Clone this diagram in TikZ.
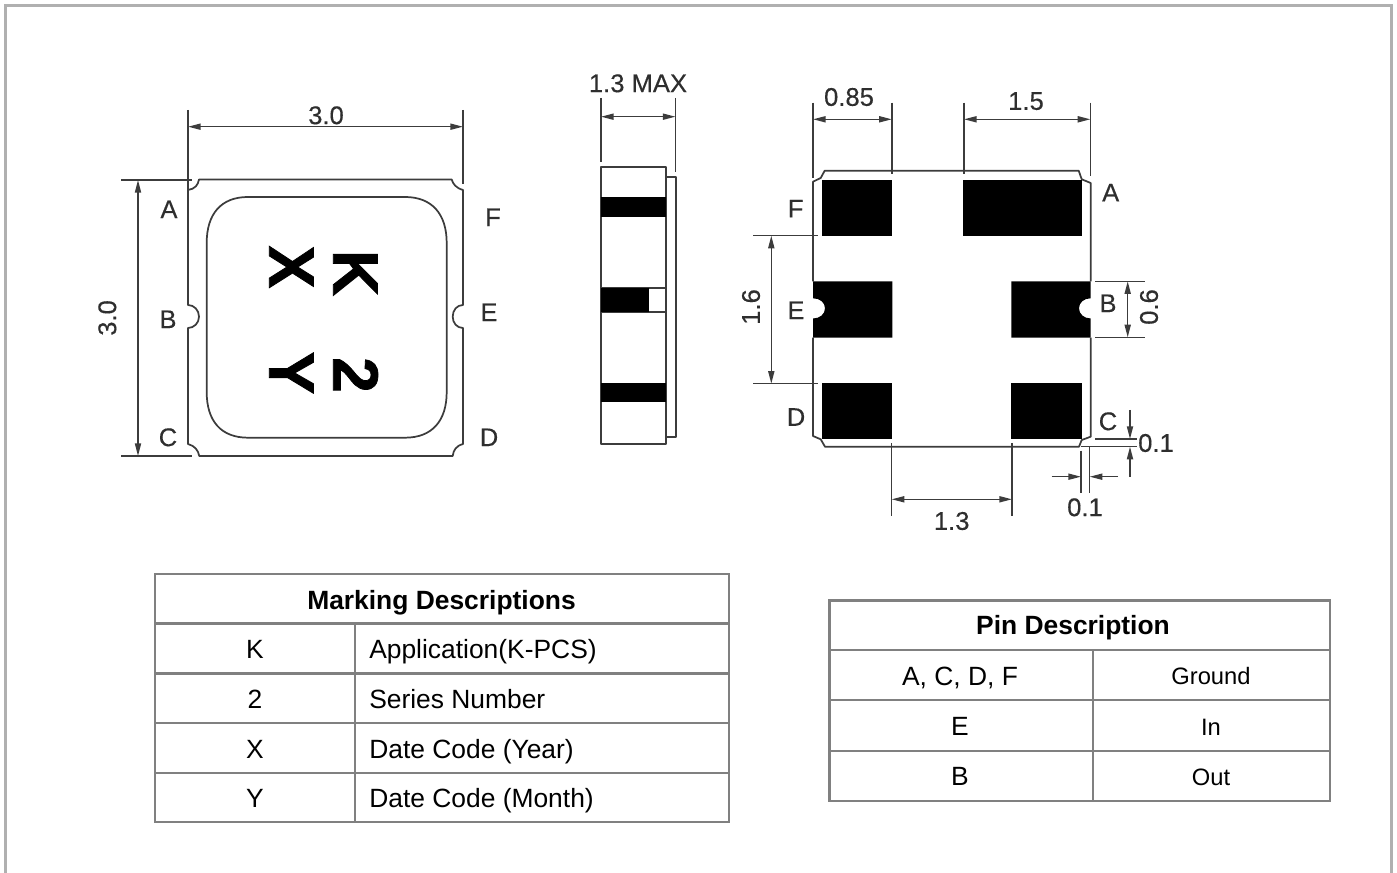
\documentclass[tikz,border=0pt]{standalone}
\usepackage{fontspec}
\setmainfont{Liberation Sans}
\newfontfamily\labfont[FakeBold=0.35]{Liberation Sans}
\newfontfamily\heavyfont[BoldFeatures={FakeBold=1.2}]{Liberation Sans}
\usetikzlibrary{arrows.meta}
\definecolor{ink}{HTML}{3C3C3C}
\definecolor{txt}{HTML}{2E2E2E}
\definecolor{tbl}{HTML}{808080}
\definecolor{frame}{HTML}{B0B0B0}
\tikzset{
  x=.75pt,y=-.75pt,
  ln/.style={draw=ink,line width=1.3pt,line join=round},
  thinln/.style={draw=ink,line width=1.1pt},
  dimtip/.tip={Triangle[length=9.5pt,width=4.6pt]},
  dimarr/.style={thinln,{dimtip}-{dimtip}},
  oneway/.style={thinln,-{dimtip}},
  lab/.style={text=txt,inner sep=0pt,font=\fontsize{19.2}{21}\labfont,text height=13.7pt,text depth=0pt},
  bigmark/.style={text=black,inner sep=0pt,rotate=-90,font=\fontsize{48}{50}\heavyfont\bfseries,text height=34pt,text depth=0pt},
  tline/.style={draw=tbl,line width=1.7pt},
  cell/.style={text=black,inner sep=0pt,font=\fontsize{19.8}{22}\selectfont,text height=14.2pt,text depth=0pt},
  cellleft/.style={cell,anchor=west},
  cellsm/.style={text=black,inner sep=0pt,font=\fontsize{17.8}{20}\selectfont,text height=12.8pt,text depth=0pt},
  head/.style={text=black,inner sep=0pt,font=\fontsize{19.8}{22}\selectfont\bfseries,text height=14.2pt,text depth=0pt},
}
\begin{document}
\begin{tikzpicture}
\useasboundingbox (0,0) rectangle (1397,873);
% outer frame
\draw[frame,line width=2pt] (5.3,880) -- (5.3,5.3) -- (1391.5,5.3) -- (1391.5,880);

% ---------- top view ----------
\draw[ln] (199,179.5) -- (451.7,179.5)
  .. controls (453,184) and (456,188) .. (463,190)
  -- (463,305) .. controls (457,305) and (452.7,310) .. (452.7,316.7)
  .. controls (452.7,323) and (457,328) .. (463,328)
  -- (463,444) .. controls (456,446) and (453.5,450) .. (452.7,456)
  -- (199.3,456) .. controls (198,450) and (195,446) .. (188,444)
  -- (188,328) .. controls (194,328) and (199,323) .. (199,316.7)
  .. controls (199,310) and (194,305) .. (188,305)
  -- (188,190) .. controls (195,189) and (198,185) .. (199,179.5) -- cycle;
\draw[ln] (248,197) -- (405,197) .. controls (432,197) and (446.7,214) .. (446.7,243)
  -- (446.7,392) .. controls (446.7,421) and (432,437.7) .. (405,437.7)
  -- (248,437.7) .. controls (221,437.7) and (206.7,421) .. (206.7,392)
  -- (206.7,243) .. controls (206.7,214) and (221,197) .. (248,197) -- cycle;
\coordinate (tl1) at (188,126.7); \coordinate (tr1) at (463,126.7);
\coordinate (tv1) at (138,180); \coordinate (tv2) at (138,456);
\draw[thinln] (188,110) -- (188,190) (463,110) -- (463,184);
\draw[thinln] (121,180) -- (192,180) (121,456) -- (192,456);
\draw[dimarr] (tl1) -- (tr1);
\draw[dimarr] (tv1) -- (tv2);
\node[lab] (t30) at (326,115) {3.0};
\node[lab,rotate=90] (l30) at (107,318) {3.0};
\node[lab] (tA) at (169,209) {A};
\node[lab] (tB) at (168,319) {B};
\node[lab] (tC) at (168,437) {C};
\node[lab] (tF) at (493,217) {F};
\node[lab] (tE) at (489,312) {E};
\node[lab] (tD) at (489,437) {D};
\node[bigmark] (mX) at (292,267) {X};
\node[bigmark] (mK) at (356,273) {K};
\node[bigmark] (mY) at (292,373) {Y};
\node[bigmark] (m2) at (356,375) {2};

% ---------- side view ----------
\draw[ln] (666,176.7) -- (676,176.7) -- (676,436.7) -- (666,436.7);
\draw[ln] (601.3,166.7) rectangle (666,444);
\fill[black] (601.3,197.3) rectangle (666,217.3);
\draw[ln] (601.3,288.3) rectangle (666,311.7);
\fill[black] (601.3,288.3) rectangle (648.7,311.7);
\fill[black] (601.3,382.7) rectangle (666,401.7);
\coordinate (s1) at (601,116.7); \coordinate (s2) at (675.5,116.7);
\draw[thinln] (601,98) -- (601,161.7) (675.5,98) -- (675.5,172);
\draw[dimarr] (s1) -- (s2);
\node[lab] (smax) at (638,83) {1.3 MAX};

% ---------- bottom view ----------
\draw[ln] (813,281.3) -- (813,181.7) -- (820.7,178) -- (824.7,170.7)
  -- (1078.7,170.7) -- (1081.7,179.3) -- (1090.7,183) -- (1090.7,281.3);
\draw[ln] (813,337.7) -- (813,436) -- (820.7,439.3) -- (825,446.7)
  -- (1079,446.7) -- (1081.7,440) -- (1090.7,436.7) -- (1090.7,337.7);
\fill[black] (822.3,180) rectangle (892.3,236);
\fill[black] (962.7,180) rectangle (1081.7,236);
\fill[black] (813,281.3) -- (892.3,281.3) -- (892.3,337.7) -- (813,337.7) -- (813,318.5)
  .. controls (820,318.5) and (825,314) .. (825,308.3)
  .. controls (825,302.5) and (820,298.3) .. (813,298.3) -- cycle;
\fill[black] (1090.7,281.3) -- (1011.3,281.3) -- (1011.3,337.7) -- (1090.7,337.7) -- (1090.7,318.5)
  .. controls (1084,318.5) and (1079,314) .. (1079,308.3)
  .. controls (1079,302.5) and (1084,298.3) .. (1090.7,298.3) -- cycle;
\fill[black] (822.3,383) rectangle (892.3,439);
\fill[black] (1011.3,383) rectangle (1081.7,439);
% extension lines
\draw[thinln] (813,102.7) -- (813,178) (891.8,102.7) -- (891.8,174);
\draw[thinln] (964,102.7) -- (964,174) (1090.4,102.7) -- (1090.4,176);
\draw[thinln] (753.3,235.7) -- (818,235.7) (753.3,383.7) -- (818,383.7);
\draw[thinln] (1095,281.3) -- (1145,281.3) (1095,337.3) -- (1145,337.3);
\draw[thinln] (891.7,443) -- (891.7,516) (1012,443) -- (1012,516);
\draw[thinln] (1095,439) -- (1137,439) (1081,446.7) -- (1137,446.7);
\draw[thinln] (1081,450.7) -- (1081,492.7) (1089.7,446.7) -- (1089.7,492.7);
% dimension lines
\coordinate (a1) at (813,119.3); \coordinate (a2) at (891.8,119.3);
\coordinate (b1) at (964,119.3); \coordinate (b2) at (1090.4,119.3);
\coordinate (c1) at (771.3,235.7); \coordinate (c2) at (771.3,383.7);
\coordinate (d1) at (1127.7,281.3); \coordinate (d2) at (1127.7,337.3);
\coordinate (e1) at (891.7,499.3); \coordinate (e2) at (1012,499.3);
\coordinate (f0) at (1130,410); \coordinate (f1) at (1130,439);
\coordinate (g0) at (1130,476.7); \coordinate (g1) at (1130,446.7);
\coordinate (h0) at (1051.7,476.7); \coordinate (h1) at (1081,476.7);
\coordinate (i0) at (1118,476.7); \coordinate (i1) at (1089.7,476.7);
\draw[dimarr] (a1) -- (a2);
\draw[dimarr] (b1) -- (b2);
\draw[dimarr] (c1) -- (c2);
\draw[dimarr] (d1) -- (d2);
\draw[dimarr] (e1) -- (e2);
\draw[oneway] (f0) -- (f1);
\draw[oneway] (g0) -- (g1);
\draw[oneway] (h0) -- (h1);
\draw[oneway] (i0) -- (i1);
\node[lab] (n085) at (849,96.7) {0.85};
\node[lab] (n15) at (1026,100.7) {1.5};
\node[lab,rotate=90] (n16) at (750.7,307) {1.6};
\node[lab,rotate=90] (n06) at (1148.7,307) {0.6};
\node[lab] (n13) at (951.7,520.7) {1.3};
\node[lab] (n01a) at (1156,442.7) {0.1};
\node[lab] (n01b) at (1085,507) {0.1};
\node[lab] (bA) at (1110.7,192.3) {A};
\node[lab] (bF) at (795.7,208.3) {F};
\node[lab] (bE) at (796,310) {E};
\node[lab] (bB) at (1108,303) {B};
\node[lab] (bD) at (796,416.7) {D};
\node[lab] (bC) at (1108,421) {C};

% ---------- marking table ----------
\draw[tline] (155,574) rectangle (729,822);
\draw[tline] (155,623.5) -- (729,623.5) (155,673.5) -- (729,673.5)
  (155,723) -- (729,723) (155,773) -- (729,773);
\draw[tline] (355,623.5) -- (355,822);
\node[head] (mt) at (441.5,600) {Marking Descriptions};
\node[cell] (mk) at (255,649) {K};
\node[cell] (m2t) at (255,699) {2};
\node[cell] (mx) at (255,749) {X};
\node[cell] (my) at (255,798) {Y};
\node[cellleft] (mkd) at (369,649) {Application(K-PCS)};
\node[cellleft] (m2d) at (369,699) {Series Number};
\node[cellleft] (mxd) at (369,749) {Date Code (Year)};
\node[cellleft] (myd) at (369,798) {Date Code (Month)};

% ---------- pin table ----------
\draw[tline] (829.5,600.5) rectangle (1330,801);
\draw[tline] (829.5,650) -- (1330,650) (829.5,700) -- (1330,700) (829.5,751) -- (1330,751);
\draw[tline] (1093,650) -- (1093,801);
\node[head] (pt) at (1073,625) {Pin Description};
\node[cell] (p1) at (960,676) {A, C, D, F};
\node[cell] (p2) at (960,726) {E};
\node[cell] (p3) at (960,776) {B};
\node[cellsm] (q1) at (1211,676) {Ground};
\node[cellsm] (q2) at (1211,727) {In};
\node[cellsm] (q3) at (1211,777) {Out};
\end{tikzpicture}
\end{document}
